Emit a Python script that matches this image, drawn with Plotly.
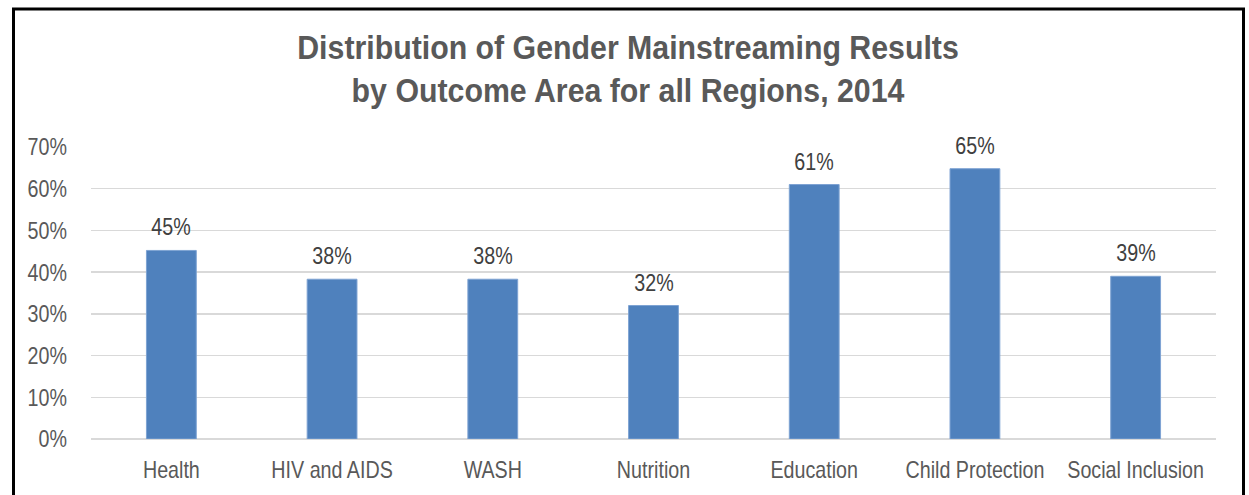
import plotly.graph_objects as go

categories = ["Health", "HIV and AIDS", "WASH", "Nutrition", "Education",
              "Child Protection", "Social Inclusion"]
values = [0.452, 0.383, 0.383, 0.320, 0.610, 0.648, 0.390]
tick_vals = [0, 0.1, 0.2, 0.3, 0.4, 0.5, 0.6, 0.7]
tick_text = ["0%", "10%", "20%", "30%", "40%", "50%", "60%", "70%"]
title_text = "Distribution of Gender Mainstreaming Results<br>by Outcome Area for all Regions, 2014"

FONT = "Liberation Sans, Arial, sans-serif"

fig = go.Figure(go.Bar(
    x=categories, y=values,
    marker=dict(color="#4f81bd", line=dict(color="#7ea3d3", width=1)),
    hoverinfo="skip",
))

for c, v in zip(categories, values):
    fig.add_annotation(x=c, y=v, text=f"{v:.0%}", showarrow=False,
                       xref="x", yref="y", yanchor="bottom", yshift=8,
                       font=dict(family=FONT, size=24, color="#404040"))

W, H = 1249, 495
l, r, t, b = 91, 33, 147, 54
pw, ph = W - l - r, H - t - b

def px(x):
    return (x - l) / pw

def py(y):
    return (H - b - y) / ph

fig.add_shape(type="rect", xref="paper", yref="paper",
              x0=px(13.5), x1=px(1243.5), y0=py(540), y1=py(8),
              line=dict(color="black", width=3), fillcolor="rgba(0,0,0,0)")

fig.update_layout(
    width=W, height=H,
    margin=dict(l=l, r=r, t=t, b=b),
    paper_bgcolor="white", plot_bgcolor="white",
    showlegend=False,
    bargap=0.69,
    title=dict(text=title_text, x=628 / W, xref="container", xanchor="center",
               y=1 - 59 / H, yref="container", yanchor="middle",
               font=dict(family=FONT, size=33, color="#595959", weight="bold")),
    font=dict(family=FONT),
)
fig.update_xaxes(
    showgrid=False, showline=False, zeroline=False,
    tickfont=dict(family=FONT, size=24, color="#595959"),
    ticks="", ticklabelstandoff=14, tickangle=0,
)
fig.update_yaxes(
    range=[0, 0.7], tickvals=tick_vals, ticktext=tick_text,
    showgrid=True, gridcolor="#d9d9d9", gridwidth=1.5,
    zeroline=True, zerolinecolor="#d9d9d9", zerolinewidth=1.5,
    showline=False, ticks="", ticklabelstandoff=23,
    tickfont=dict(family=FONT, size=24, color="#595959"),
)

post = """
document.body.style.margin = '0';
var gd = document.getElementById('{plot_id}');
function sq(el, f) {
  var L = el.getComputedTextLength();
  if (L > 0) {
    el.setAttribute('textLength', (L * f).toFixed(2));
    el.setAttribute('lengthAdjust', 'spacingAndGlyphs');
  }
}
function run() {
  gd.querySelectorAll('.xtick text, .ytick text, .annotation-text').forEach(function(e){ sq(e, 0.82); });
  gd.querySelectorAll('.gtitle tspan.line').forEach(function(e){ sq(e, 0.918); });
}
run();
"""

fig.write_html("out.html", post_script=post,
               config={"displayModeBar": False, "staticPlot": True})
